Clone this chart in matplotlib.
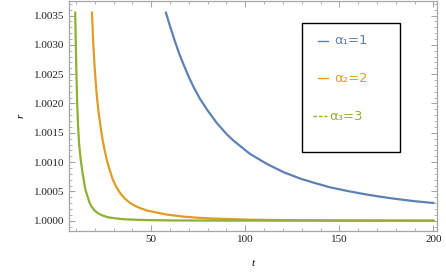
import numpy as np
import matplotlib.pyplot as plt
from matplotlib.ticker import MultipleLocator, FormatStrFormatter
from matplotlib.lines import Line2D
from matplotlib.patches import Rectangle

# values
t_blue = [57.8, 60.0, 62.5, 65.0, 67.0, 70.0, 73.0, 75.9, 80.0, 84.8, 90.0,
          93.6, 102.5, 111.4, 120.2, 129.1, 136.2, 145.0, 153.9, 163.0,
          171.6, 180.0, 189.4, 200.0]
r_blue = [1.00355, 1.00332, 1.00307, 1.00284, 1.00268, 1.00245, 1.00225,
          1.00208, 1.00188, 1.00167, 1.00148, 1.00137, 1.00114, 1.00097,
          1.00083, 1.00072, 1.00065, 1.00057, 1.00051, 1.000455, 1.00041,
          1.000372, 1.000335, 1.000302]

t_orange = [18.5, 19.2, 19.9, 20.6, 21.3, 22.2, 23.1, 24.1, 25.2, 26.5, 27.9,
            29.5, 31.4, 33.5, 35.9, 38.5, 41.2, 44.5, 48.2, 58.2, 67.0, 75.9,
            84.8, 102.5, 120.0, 150.0, 200.0]
r_orange = [1.00355, 1.00303, 1.00263, 1.00232, 1.00206, 1.00181, 1.00160,
            1.00139, 1.00121, 1.00102, 1.00087, 1.00071, 1.00058, 1.00047,
            1.00038, 1.00031, 1.000256, 1.00021, 1.00017, 1.000105, 1.00007,
            1.000048, 1.000034, 1.000017, 1.00001, 1.000004, 1.000001]

t_green = [9.6, 10.1, 10.6, 11.1, 11.7, 12.5, 13.3, 14.4, 15.2, 16.2, 17.2,
           18.3, 20.0, 21.8, 24.0, 27.1, 31.0, 36.0, 42.0, 48.4, 60.0, 80.0,
           200.0]
r_green = [1.00355, 1.00272, 1.00206, 1.00163, 1.00130, 1.00105, 1.00086,
           1.00064, 1.00051, 1.00041, 1.00031, 1.00024, 1.00017, 1.000126,
           1.00009, 1.000058, 1.00004, 1.000024, 1.000016, 1.00001, 1.000005,
           1.000002, 1.0]

labels = ["α₁=1", "α₂=2", "α₃=3"]
colors = ["#5E81B5", "#E19C24", "#8FB032"]

fig = plt.figure(figsize=(4.46, 2.77), dpi=100)
ax = fig.add_axes([0.1547, 0.166, 0.8251, 0.8286])

ax.plot(t_blue, r_blue, color=colors[0], lw=1.6)
ax.plot(t_orange, r_orange, color=colors[1], lw=1.6)
ax.plot(t_green, r_green, color=colors[2], lw=1.6)

ax.set_xlim(6.3, 201.9)
ax.set_ylim(0.999824, 1.00374)

ax.xaxis.set_major_locator(MultipleLocator(50))
ax.xaxis.set_minor_locator(MultipleLocator(10))
ax.yaxis.set_major_locator(MultipleLocator(0.0005))
ax.yaxis.set_minor_locator(MultipleLocator(0.0001))
ax.yaxis.set_major_formatter(FormatStrFormatter("%.4f"))

frame_col = "#a6a6a6"
for s in ax.spines.values():
    s.set_color(frame_col)
    s.set_linewidth(0.9)
ax.tick_params(which="both", direction="in", top=True, right=True,
               color=frame_col, labelsize=8, pad=3)
ax.tick_params(which="major", length=4.5, width=0.8)
ax.tick_params(which="minor", length=2.5, width=0.6)
for lab in ax.get_xticklabels() + ax.get_yticklabels():
    lab.set_family("Liberation Serif")
    lab.set_color("#222222")

ax.set_xlabel("t", family="Liberation Serif", style="italic", fontsize=8, labelpad=11)
ax.set_ylabel("r", family="Liberation Serif", style="italic", fontsize=8, labelpad=6)

# legend box drawn by hand (figure pixel layout of the reference)
W, H = 446.0, 277.0
fig.patches.append(Rectangle((302 / W, 1 - 152 / H), 98 / W, 129 / H,
                             transform=fig.transFigure, fill=False,
                             edgecolor="black", linewidth=1.0))
rows = [40.7, 78.0, 116.0]
for i, (lab, c, yy) in enumerate(zip(labels, colors, rows)):
    y = 1 - yy / H
    if i < 2:
        fig.lines.append(Line2D([318 / W, 328 / W], [y, y], color=c, lw=1.0,
                                transform=fig.transFigure))
        x_text = 334
    else:
        fig.lines.append(Line2D([313 / W, 327 / W], [y, y], color=c, lw=1.0,
                                ls=(0, (2.5, 1.5)), transform=fig.transFigure))
        x_text = 329
    fig.text(x_text / W, y, lab, color=c, fontsize=9.5, va="center", ha="left",
             family="DejaVu Sans")

fig.savefig("out.png", dpi=100)
